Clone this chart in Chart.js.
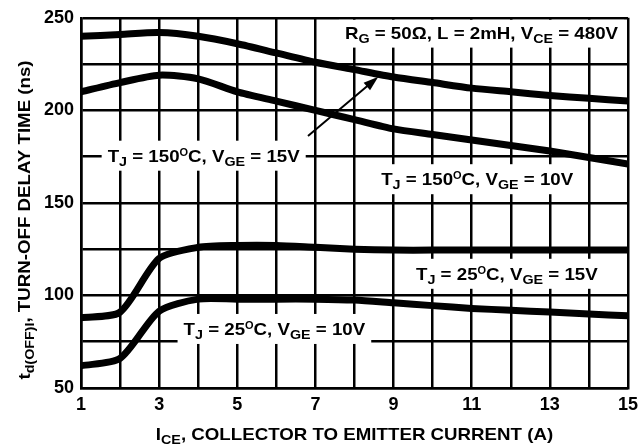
<!DOCTYPE html>
<html>
<head>
<meta charset="utf-8">
<script src="https://cdn.jsdelivr.net/npm/chart.js@4/dist/chart.umd.min.js"></script>
<style>
html,body{margin:0;padding:0;background:#fff;}
#wrap{width:644px;height:448px;}
</style>
</head>
<body>
<div id="wrap"><canvas id="c" width="644" height="448"></canvas></div>
<script>
// ---- data ----
const currents = [1,2,3,4,5,6,7,8,9,10,11,12,13,14,15];
const tj150_vge15 = [240,241,242,240,236,231,226,222,218,215,212,210,208,206.5,205];
const tj150_vge10 = [210,215,219,217,210,205,200,195,190,187,184,181,178,174.5,171];
const tj25_vge15  = [88,91,120,126,127,127,126,125,124.5,124.5,124.5,124.5,124.5,124.5,124.5];
const tj25_vge10  = [62,66,91.5,98,98,98,98,97.5,96,94.5,93,92,91,90,89];
const xTickLabels = [1,3,5,7,9,11,13,15];
const yTickLabels = [50,100,150,200,250];

const FAM = '"Liberation Sans", Arial, Helvetica, sans-serif';
const F_MAIN = 'bold 17px ' + FAM;
const F_SUB = 'bold 13px ' + FAM;
const F_SUP = 'bold 10px ' + FAM;
const STRETCH = 1.1;

// annotation texts (rich parts) with anchors in data units
const notes = [
  {x: 11.25, y: 242, parts: [{t:'R'},{t:'G',sub:1},{t:' = 50\u03A9, L = 2mH, V'},{t:'CE',sub:1},{t:' = 480V'}]},
  {x: 4.14, y: 175.5, parts: [{t:'T'},{t:'J',sub:1},{t:' = 150'},{t:'O',sup:1},{t:'C, V'},{t:'GE',sub:1},{t:' = 15V'}]},
  {x: 11.14, y: 162.8, parts: [{t:'T'},{t:'J',sub:1},{t:' = 150'},{t:'O',sup:1},{t:'C, V'},{t:'GE',sub:1},{t:' = 10V'}]},
  {x: 11.9, y: 111.7, parts: [{t:'T'},{t:'J',sub:1},{t:' = 25'},{t:'O',sup:1},{t:'C, V'},{t:'GE',sub:1},{t:' = 15V'}]},
  {x: 5.95, y: 81.9, parts: [{t:'T'},{t:'J',sub:1},{t:' = 25'},{t:'O',sup:1},{t:'C, V'},{t:'GE',sub:1},{t:' = 10V'}]}
];
const arrow = {from: [6.81, 186.2], to: [8.61, 218.1]};

function fontOf(p){ return p.sub ? F_SUB : (p.sup ? F_SUP : F_MAIN); }
function offOf(p, subOff){ return p.sub ? subOff : (p.sup ? -6 : 0); }
function richWidth(ctx, parts){
  let w = 0;
  for (const p of parts){ ctx.font = fontOf(p); w += ctx.measureText(p.t).width; }
  return w * STRETCH;
}
function drawRich(ctx, parts, x, baseline, subOff){
  ctx.save();
  ctx.translate(x, baseline);
  ctx.scale(STRETCH, 1);
  ctx.textBaseline = 'alphabetic';
  ctx.textAlign = 'left';
  let cx = 0;
  for (const p of parts){
    ctx.font = fontOf(p);
    ctx.fillText(p.t, cx, offOf(p, subOff));
    cx += ctx.measureText(p.t).width;
  }
  ctx.restore();
}

const annPlugin = {
  id: 'ann',
  beforeDatasetsDraw(chart){
    const ctx = chart.ctx, xs = chart.scales.x, ys = chart.scales.y;
    ctx.save();
    ctx.fillStyle = '#fff';
    for (const n of notes){
      const w = richWidth(ctx, n.parts);
      const cx = xs.getPixelForValue(n.x), cy = ys.getPixelForValue(n.y);
      let top = cy - 15, bot = cy + 15;
      top = Math.max(top, chart.chartArea.top + 2);
      ctx.fillRect(cx - w/2 - 6, top, w + 12, bot - top);
    }
    ctx.restore();
  },
  afterDatasetsDraw(chart){
    const ctx = chart.ctx, xs = chart.scales.x, ys = chart.scales.y;
    ctx.save();
    ctx.fillStyle = '#000';
    for (const n of notes){
      const w = richWidth(ctx, n.parts);
      const cx = xs.getPixelForValue(n.x), cy = ys.getPixelForValue(n.y);
      drawRich(ctx, n.parts, cx - w/2, cy + 6, 4);
    }
    // arrow
    const x1 = xs.getPixelForValue(arrow.from[0]), y1 = ys.getPixelForValue(arrow.from[1]);
    const x2 = xs.getPixelForValue(arrow.to[0]), y2 = ys.getPixelForValue(arrow.to[1]);
    const ang = Math.atan2(y2 - y1, x2 - x1);
    const hl = 15, hw = 5;
    ctx.strokeStyle = '#000';
    ctx.lineWidth = 2;
    ctx.beginPath();
    ctx.moveTo(x1, y1);
    ctx.lineTo(x2 - Math.cos(ang)*hl*0.8, y2 - Math.sin(ang)*hl*0.8);
    ctx.stroke();
    ctx.beginPath();
    ctx.moveTo(x2, y2);
    ctx.lineTo(x2 - Math.cos(ang)*hl - Math.sin(ang)*hw, y2 - Math.sin(ang)*hl + Math.cos(ang)*hw);
    ctx.lineTo(x2 - Math.cos(ang)*hl + Math.sin(ang)*hw, y2 - Math.sin(ang)*hl - Math.cos(ang)*hw);
    ctx.closePath();
    ctx.fill();

    // axis titles
    const xt = [{t:'I'},{t:'CE',sub:1},{t:', COLLECTOR TO EMITTER CURRENT (A)'}];
    const xw = richWidth(ctx, xt);
    const xmid = (chart.chartArea.left + chart.chartArea.right) / 2;
    drawRich(ctx, xt, xmid - xw/2, 440, 4);

    const yt = [{t:'t'},{t:'d(OFF)I',sub:1},{t:', TURN-OFF DELAY TIME (ns)'}];
    const yw = richWidth(ctx, yt);
    ctx.translate(30, 220);
    ctx.rotate(-Math.PI/2);
    drawRich(ctx, yt, -yw/2, 0, 4);
    ctx.restore();
  }
};

function ds(data){
  return {
    data: data.map((v, k) => ({x: currents[k], y: v})),
    borderColor: '#000',
    backgroundColor: '#000',
    borderWidth: 7,
    pointRadius: 0,
    tension: 0.25,
    fill: false
  };
}

new Chart(document.getElementById('c'), {
  type: 'line',
  data: {
    datasets: [ds(tj150_vge15), ds(tj150_vge10), ds(tj25_vge15), ds(tj25_vge10)]
  },
  options: {
    responsive: false,
    animation: false,
    devicePixelRatio: 1,
    layout: {padding: {left: 0, right: 11, top: 12, bottom: 0}},
    plugins: {legend: {display: false}, tooltip: {enabled: false}, title: {display: false}},
    scales: {
      x: {
        type: 'linear', min: 1, max: 15,
        afterFit(s){ s.height = 60; },
        border: {display: true, color: '#000', width: 2.5},
        grid: {color: '#000', lineWidth: 2.5, drawTicks: false},
        ticks: {
          stepSize: 1, autoSkip: false, maxRotation: 0, padding: 6,
          color: '#000', font: {family: FAM, size: 18, weight: 'bold'},
          callback: v => xTickLabels.includes(v) ? String(v) : ''
        }
      },
      y: {
        type: 'linear', min: 50, max: 250,
        afterFit(s){ s.width = 81; },
        border: {display: true, color: '#000', width: 2.5},
        grid: {color: '#000', lineWidth: 2.5, drawTicks: false},
        ticks: {
          stepSize: 25, autoSkip: false, padding: 7,
          color: '#000', font: {family: FAM, size: 18, weight: 'bold'},
          callback: v => yTickLabels.includes(v) ? String(v) : ''
        }
      }
    }
  },
  plugins: [annPlugin]
});
</script>
</body>
</html>
